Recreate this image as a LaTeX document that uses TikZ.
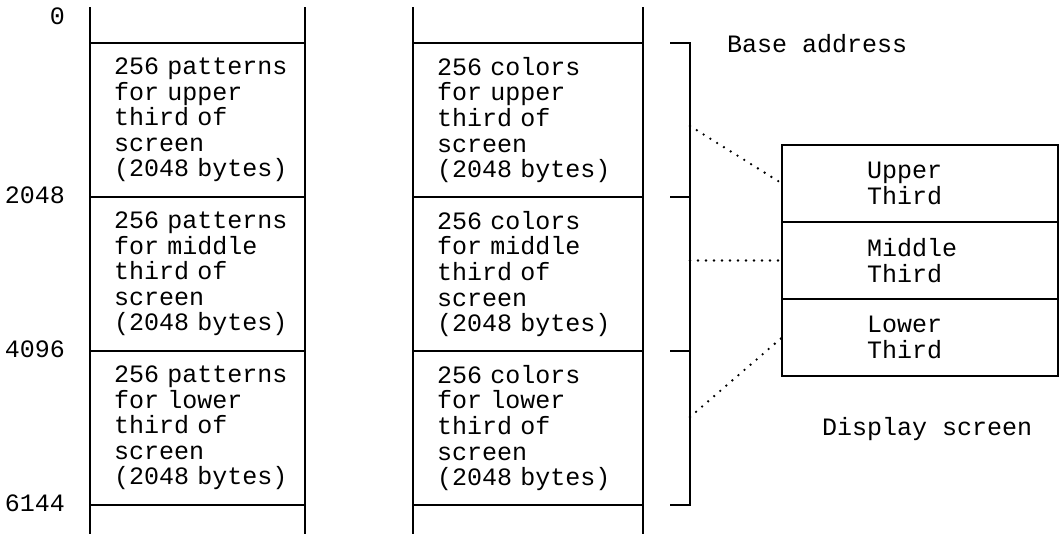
\documentclass[tikz,border=0pt]{standalone}
\usepackage{fontspec}
\setmonofont{Liberation Mono}
\usepackage{tikz}
\usetikzlibrary{positioning}

\begin{document}
\begin{tikzpicture}[x=1pt, y=-1pt,
node distance=0pt,
rule/.style={line width=2.6pt},
memcell/.style={draw, rule, minimum height=154pt, text width=#1, inner xsep=24pt, inner ysep=0pt, outer sep=0pt, align=left, font=\ttfamily\fontsize{25}{25.6}\selectfont},
scrpart/.style={draw, rule, minimum height=77pt, text width=106pt, inner xsep=85pt, inner ysep=0pt, outer sep=0pt, align=left, font=\ttfamily\fontsize{25}{25.6}\selectfont},
addr/.style={anchor=base east, inner sep=0pt, font=\ttfamily\fontsize{25}{25.6}\selectfont},
capt/.style={anchor=base west, inner sep=0pt, font=\ttfamily\fontsize{25}{25.6}\selectfont},
dotline/.style={line width=2.6pt, dash pattern=on 0pt off 8pt, line cap=round}
]
\useasboundingbox (0,0) rectangle (1061,534);

% pattern table
\node[memcell=167pt] (pu) at (197.5,120) {256~patterns\\for upper\\third of\\screen\\(2048~bytes)};
\node[memcell=167pt, below=of pu] (pm) {256~patterns\\for middle\\third of\\screen\\(2048~bytes)};
\node[memcell=167pt, below=of pm] (pl) {256~patterns\\for lower\\third of\\screen\\(2048~bytes)};

% color table
\node[memcell=182pt, right=108pt of pu] (cu) {256 colors\\for upper\\third of\\screen\\(2048~bytes)};
\node[memcell=182pt, below=of cu] (cm) {256 colors\\for middle\\third of\\screen\\(2048~bytes)};
\node[memcell=182pt, below=of cm] (cl) {256 colors\\for lower\\third of\\screen\\(2048~bytes)};

% open ends of both tables
\foreach \t/\b in {pu/pl, cu/cl} {
  \draw[rule] (\t.north west) -- ++(0,-36);
  \draw[rule] (\t.north east) -- ++(0,-36);
  \draw[rule] (\b.south west) -- ++(0,30);
  \draw[rule] (\b.south east) -- ++(0,30);
}

% addresses
\node[addr] (a0) at (65,25) {0};
\node[addr] (a2048) at (65,204) {2048};
\node[addr] (a4096) at (65,358) {4096};
\node[addr] (a6144) at (65,512) {6144};

% bracket
\draw[rule] (670,43) -| (690,505) -- (670,505);
\foreach \y in {197,351}
  \draw[rule] (670,\y) -- (690,\y);
\coordinate (bu) at (690,126);
\coordinate (bm) at (690,260.5);
\coordinate (bl) at (690,417);
\node[capt] (base) at (727,53) {Base address};

% display screen
\node[scrpart] (up) at (920,183.5) {Upper\\Third};
\node[scrpart, below=of up] (mid) {Middle\\Third};
\node[scrpart, below=of mid] (low) {Lower\\Third};
\node[capt] (disp) at (822,436) {Display screen};

\draw[dotline] (bu) -- (up.west);
\draw[dotline] (bm) -- (mid.west);
\draw[dotline] (bl) -- (low.west);
\end{tikzpicture}
\end{document}
